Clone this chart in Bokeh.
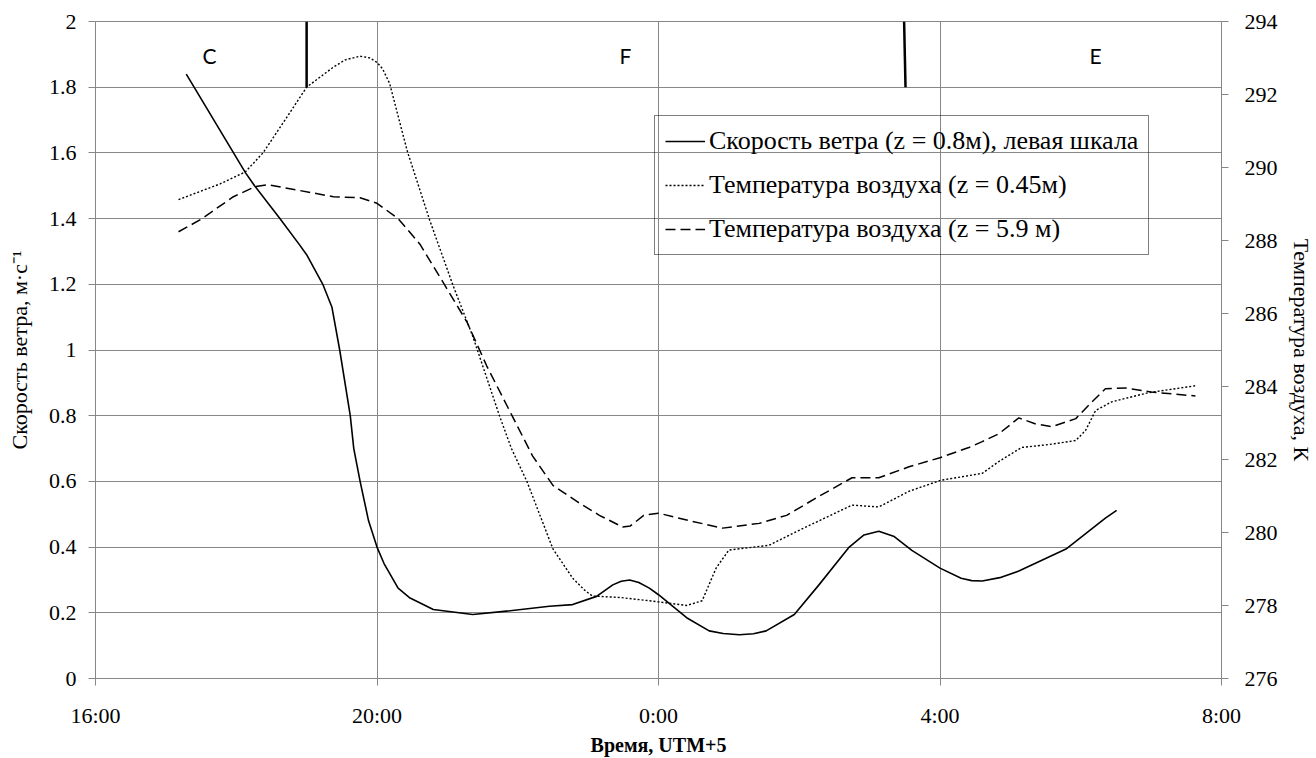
from bokeh.plotting import figure
from bokeh.models import Range1d, LinearAxis, FixedTicker, Legend, LegendItem
from bokeh.core.properties import value
from bokeh.embed import file_html
from bokeh.resources import INLINE

# Time in hours from 0:00 of the first day (24 = midnight, 32 = 8:00 next morning)
wind_t = [17.29, 18.13, 18.26, 18.62, 18.9, 19.0, 19.23, 19.36, 19.47, 19.62, 19.67,
          19.76, 19.88, 20.0, 20.1, 20.3, 20.47, 20.8, 21.36, 21.84, 22.45, 22.78, 23.12,
          23.35, 23.47, 23.59, 23.72, 23.87, 24.0, 24.4, 24.72, 24.92, 25.15, 25.35, 25.53,
          25.93, 26.28, 26.71, 26.92, 27.13, 27.35, 27.6, 28.0, 28.3, 28.45, 28.6, 28.85,
          29.12, 29.79, 30.35, 30.51]
wind_speed = [1.84, 1.54, 1.50, 1.40, 1.32, 1.29, 1.20, 1.13, 1.00, 0.80, 0.70,
              0.60, 0.48, 0.40, 0.35, 0.275, 0.245, 0.21, 0.195, 0.205, 0.22, 0.225, 0.25,
              0.285, 0.296, 0.30, 0.292, 0.275, 0.255, 0.185, 0.145, 0.137, 0.133, 0.136, 0.145,
              0.195, 0.285, 0.40, 0.437, 0.448, 0.432, 0.39, 0.336, 0.305, 0.298, 0.297, 0.307,
              0.327, 0.394, 0.488, 0.512]

t045_t = [17.18, 17.77, 18.13, 18.38, 18.72, 19.0, 19.38, 19.55, 19.76, 19.9, 20.0, 20.08,
          20.18, 20.43, 20.75, 21.08, 21.36, 21.74, 21.91, 22.13, 22.5, 22.78, 22.95, 23.06,
          23.45, 23.87, 24.0, 24.4, 24.62, 24.82, 25.0, 25.57, 26.04, 26.75, 27.13, 27.56,
          28.01, 28.6, 28.84, 29.16, 29.55, 29.93, 30.07, 30.21, 30.44, 30.96, 31.63]
temp_045 = [289.12, 289.55, 289.88, 290.4, 291.38, 292.2, 292.75, 292.95, 293.05, 293.0, 292.88, 292.7,
            292.3, 290.45, 288.55, 286.77, 285.38, 283.2, 282.3, 281.4, 279.55, 278.75, 278.42, 278.26,
            278.22, 278.13, 278.1, 278.0, 278.13, 279.03, 279.52, 279.65, 280.1, 280.75, 280.7, 281.13,
            281.43, 281.62, 281.95, 282.33, 282.41, 282.52, 282.8, 283.34, 283.58, 283.83, 284.02]

t59_t = [17.18, 17.49, 17.96, 18.26, 18.44, 18.9, 19.38, 19.76, 20.0, 20.3, 20.61,
         20.94, 21.28, 21.56, 21.93, 22.21, 22.5, 22.84, 23.16, 23.49, 23.6, 23.79,
         24.0, 24.4, 24.91, 25.43, 25.82, 26.28, 26.75, 27.13, 27.56, 28.0, 28.41,
         28.6, 28.84, 29.12, 29.35, 29.59, 29.93, 30.16, 30.35, 30.64, 31.0, 31.63]
temp_59 = [288.24, 288.57, 289.2, 289.47, 289.53, 289.37, 289.2, 289.17, 289.02, 288.6, 287.9,
           286.85, 285.76, 284.56, 283.16, 282.1, 281.29, 280.85, 280.47, 280.15, 280.18, 280.47,
           280.53, 280.34, 280.12, 280.25, 280.47, 280.99, 281.5, 281.5, 281.8, 282.05, 282.33,
           282.49, 282.71, 283.14, 282.98, 282.9, 283.12, 283.58, 283.94, 283.96, 283.85, 283.74]

# Stability classes and the times where they change
stability_classes = ["C", "F", "E"]
class_label_t = [17.62, 23.53, 30.21]
class_bound_top = [19.0, 27.49]
class_bound_bottom = [19.0, 27.51]

x_ticks = [16, 20, 24, 28, 32]
x_tick_labels = ["16:00", "20:00", "0:00", "4:00", "8:00"]
left_ticks = [0, 0.2, 0.4, 0.6, 0.8, 1, 1.2, 1.4, 1.6, 1.8, 2]
left_tick_labels = ["0", "0.2", "0.4", "0.6", "0.8", "1", "1.2", "1.4", "1.6", "1.8", "2"]
right_ticks = [276, 278, 280, 282, 284, 286, 288, 290, 292, 294]

legend_labels = ["Скорость ветра (z = 0.8м), левая шкала",
                 "Температура воздуха (z = 0.45м)",
                 "Температура воздуха (z = 5.9 м)"]

SERIF = "Liberation Serif"
GRID = "#878787"

p = figure(width=1316, height=758, output_backend="svg", toolbar_location=None,
           x_range=Range1d(16, 32), y_range=Range1d(0, 2),
           min_border_left=95, min_border_right=93, min_border_top=21, min_border_bottom=77)
p.extra_y_ranges = {"temp": Range1d(276, 294)}
p.outline_line_color = GRID
p.background_fill_color = "white"

# axes
p.xaxis.ticker = FixedTicker(ticks=x_ticks)
p.xaxis.major_label_overrides = dict(zip(x_ticks, x_tick_labels))
p.yaxis.ticker = FixedTicker(ticks=left_ticks)
p.yaxis.major_label_overrides = dict(zip(left_ticks, left_tick_labels))

right = LinearAxis(y_range_name="temp", ticker=FixedTicker(ticks=right_ticks))
p.add_layout(right, "right")

for ax in [p.xaxis[0], p.yaxis[0], right]:
    ax.axis_line_color = GRID
    ax.major_tick_line_color = GRID
    ax.major_tick_out = 7
    ax.major_tick_in = 0
    ax.minor_tick_line_color = None
    ax.major_label_text_font = SERIF
    ax.major_label_text_font_size = "22px"
    ax.major_label_text_color = "black"
    ax.axis_label_text_font = SERIF
    ax.axis_label_text_font_size = "22px"
    ax.axis_label_text_font_style = "normal"
    ax.axis_label_text_color = "black"

p.xaxis.major_label_standoff = 17
p.xaxis.axis_label = "Время, UTM+5"
p.xaxis.axis_label_text_font_style = "bold"
p.xaxis.axis_label_text_font_size = "20px"
p.xaxis.axis_label_standoff = 3

p.yaxis.major_label_standoff = 12
p.yaxis.axis_label = "Скорость ветра, м·с⁻¹"
p.yaxis.axis_label_standoff = 14

right.major_label_standoff = 16
right.axis_label = "Температура воздуха, К"
right.axis_label_standoff = 8

p.xgrid.ticker = FixedTicker(ticks=x_ticks)
p.ygrid.ticker = FixedTicker(ticks=left_ticks)
for g in [p.xgrid[0], p.ygrid[0]]:
    g.grid_line_color = GRID
    g.grid_line_width = 1

# stability class boundaries and labels along the top band
p.segment(x0=class_bound_top, y0=[2.0] * len(class_bound_top),
          x1=class_bound_bottom, y1=[1.8] * len(class_bound_bottom),
          line_color="black", line_width=2.5)
p.text(x=class_label_t, y=[1.895] * len(class_label_t), text=stability_classes,
       text_font=value("Lato"), text_font_size="21px", text_align="center",
       text_baseline="middle", text_color="black")

# series
r_wind = p.line(wind_t, wind_speed, line_color="black", line_width=1.6,
                line_join="round")
r_045 = p.line(t045_t, temp_045, y_range_name="temp", line_color="black",
               line_width=1.4, line_dash="2 2", line_join="round")
r_59 = p.line(t59_t, temp_59, y_range_name="temp", line_color="black",
              line_width=1.5, line_dash="10 5", line_join="round")

legend = Legend(items=[LegendItem(label=legend_labels[0], renderers=[r_wind]),
                       LegendItem(label=legend_labels[1], renderers=[r_045]),
                       LegendItem(label=legend_labels[2], renderers=[r_59])],
                location=(559, 423))
legend.label_text_font = SERIF
legend.label_text_font_size = "26px"
legend.label_text_color = "black"
legend.glyph_width = 40
legend.glyph_height = 30
legend.label_height = 30
legend.spacing = 14
legend.padding = 10
legend.margin = 0
legend.label_standoff = 4
legend.border_line_color = "black"
legend.border_line_width = 1
legend.background_fill_alpha = 0
p.add_layout(legend)

open("out.html", "w").write(file_html(p, INLINE))
